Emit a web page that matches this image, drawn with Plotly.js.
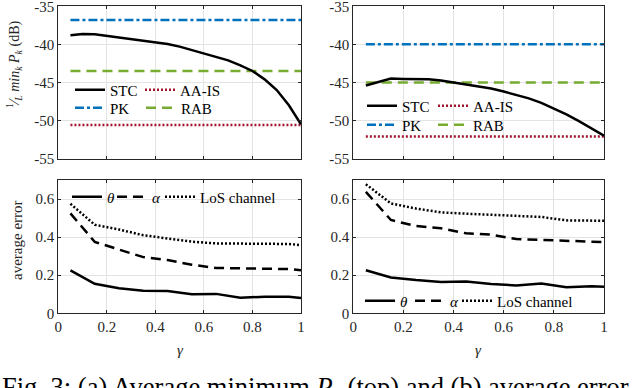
<!DOCTYPE html>
<html lang="en">
<head>
  <meta charset="UTF-8" />
  <title>Average minimum P_k and average error vs gamma</title>
  <script src="https://cdn.plot.ly/plotly-3.0.1.min.js"></script>
  <style>
    html, body { margin: 0; padding: 0; background: #fff; }
    #chart { width: 640px; height: 388px; }
  </style>
</head>
<body>
  <div id="chart"></div>
  <script>
    // gamma grid for the STC curves (top panels)
    const gammaP = [0.05, 0.10, 0.15, 0.20, 0.25, 0.30, 0.35, 0.40, 0.45, 0.50,
                    0.55, 0.60, 0.65, 0.70, 0.75, 0.80, 0.85, 0.90, 0.95, 1.00];
    // (a) average minimum power, dB
    const stcA = [-38.8, -38.65, -38.68, -38.9, -39.1, -39.3, -39.5, -39.7, -39.95, -40.3,
                  -40.75, -41.2, -41.6, -42.1, -42.75, -43.5, -44.6, -46.0, -48.0, -50.5];
    // (b)
    const stcB = [-45.4, -44.9, -44.5, -44.55, -44.6, -44.6, -44.75, -45.0, -45.25, -45.5,
                  -45.8, -46.2, -46.6, -47.1, -47.7, -48.4, -49.2, -50.1, -51.0, -52.0];

    // benchmarks are flat over gamma
    const benchGamma = [0.05, 1.0];
    const pkA = [-36.8, -36.8];
    const rabA = [-43.5, -43.5];
    const aaisA = [-50.6, -50.6];
    const pkB = [-40.0, -40.0];
    const rabB = [-45.0, -45.0];
    const aaisB = [-52.1, -52.1];

    // gamma grid for the error curves (bottom panels)
    const gammaE = [0.05, 0.15, 0.25, 0.35, 0.45, 0.55, 0.65, 0.75, 0.85, 0.95, 1.00];
    const thetaA = [0.225, 0.155, 0.132, 0.118, 0.117, 0.100, 0.102, 0.082, 0.087, 0.087, 0.080];
    const alphaA = [0.525, 0.375, 0.335, 0.295, 0.280, 0.255, 0.238, 0.237, 0.236, 0.232, 0.226];
    const losA   = [0.575, 0.465, 0.440, 0.410, 0.393, 0.376, 0.367, 0.366, 0.365, 0.364, 0.358];
    const thetaB = [0.226, 0.188, 0.175, 0.165, 0.167, 0.154, 0.146, 0.156, 0.137, 0.142, 0.140];
    const alphaB = [0.638, 0.490, 0.458, 0.447, 0.420, 0.413, 0.390, 0.385, 0.379, 0.377, 0.374];
    const losB   = [0.678, 0.577, 0.550, 0.530, 0.523, 0.518, 0.513, 0.506, 0.488, 0.488, 0.486];

    const xTicks = [0, 0.2, 0.4, 0.6, 0.8, 1];
    const xTickText = ['0', '0.2', '0.4', '0.6', '0.8', '1'];
    const pTicks = [-55, -50, -45, -40, -35];
    const pTickText = ['-55', '-50', '-45', '-40', '-35'];
    const eTicks = [0, 0.2, 0.4, 0.6];
    const eTickText = ['0', '0.2', '0.4', '0.6'];

    const W = 640, H = 388;
    const FONT = 'Liberation Serif, Times New Roman, serif';
    const INK = '#262626';
    const NB = '\u00a0';

    // MATLAB default colours
    const BLUE = '#0072BD', GREEN = '#77AC30', RED = '#A2142F';
    const DASH = '10px,6px', DOT = '2px,2px', DASHDOT = '9px,3px,3px,3px';

    // pixel helpers (margins are zero, so paper == page)
    const px = v => v / W;
    const py = v => 1 - v / H;

    // every legend entry gets its own legend box, placed where the reference has it
    // [legend id, left px, row centre px]
    const legendSpots = [];
    function line(x, y, name, color, dash, xa, ya, lx, ly) {
      const id = legendSpots.length === 0 ? 'legend' : 'legend' + (legendSpots.length + 1);
      legendSpots.push([id, lx, ly]);
      return {
        x: x, y: y, name: name, type: 'scatter', mode: 'lines',
        line: { color: color, width: 2.5, dash: dash },
        xaxis: xa, yaxis: ya, legend: id
      };
    }

    const traces = [
      // top left
      line(benchGamma, pkA, 'PK', BLUE, DASHDOT, 'x', 'y', 70, 108),
      line(benchGamma, rabA, 'RAB', GREEN, DASH, 'x', 'y', 141, 108),
      line(benchGamma, aaisA, 'AA-IS', RED, DOT, 'x', 'y', 140, 90),
      line(gammaP, stcA, 'STC', 'black', 'solid', 'x', 'y', 70, 90),
      // top right
      line(benchGamma, pkB, 'PK', BLUE, DASHDOT, 'x2', 'y2', 362, 125),
      line(benchGamma, rabB, 'RAB', GREEN, DASH, 'x2', 'y2', 433, 125),
      line(benchGamma, aaisB, 'AA-IS', RED, DOT, 'x2', 'y2', 433, 106),
      line(gammaP, stcB, 'STC', 'black', 'solid', 'x2', 'y2', 362, 106),
      // bottom left
      line(gammaE, thetaA, '<i>θ</i>' + NB, 'black', 'solid', 'x3', 'y3', 67, 197),
      line(gammaE, alphaA, '<i>α</i>' + NB, 'black', DASH, 'x3', 'y3', 112, 197),
      line(gammaE, losA, 'LoS channel', 'black', DOT, 'x3', 'y3', 160, 197),
      // bottom right
      line(gammaE, thetaB, '<i>θ</i>' + NB, 'black', 'solid', 'x4', 'y4', 360, 301),
      line(gammaE, alphaB, '<i>α</i>' + NB, 'black', DASH, 'x4', 'y4', 410, 301),
      line(gammaE, losB, 'LoS channel', 'black', DOT, 'x4', 'y4', 457, 301)
    ];

    function xAxis(domain, labels, anchor) {
      return {
        domain: domain, anchor: anchor, range: [0, 1],
        tickvals: xTicks, ticktext: xTickText, showticklabels: labels,
        ticks: 'inside', ticklen: 3, tickcolor: INK, ticklabeloverflow: 'allow',
        showline: true, linecolor: INK, linewidth: 1, mirror: 'ticks',
        showgrid: true, gridcolor: '#e3e3e3', zeroline: false,
        tickfont: { family: FONT, size: 15, color: INK }
      };
    }
    function yAxis(domain, range, vals, text, anchor) {
      return {
        domain: domain, anchor: anchor, range: range,
        tickvals: vals, ticktext: text,
        ticks: 'inside', ticklen: 3, tickcolor: INK, ticklabeloverflow: 'allow',
        showline: true, linecolor: INK, linewidth: 1, mirror: 'ticks',
        showgrid: true, gridcolor: '#e3e3e3', zeroline: false,
        tickfont: { family: FONT, size: 15, color: INK }
      };
    }

    const leftX = [px(58.3), px(301)];
    const rightX = [px(353.3), px(604)];
    const topY = [py(158.5), py(6.3)];
    const botY = [py(313.3), py(180)];

    function note(text, x, y, extra) {
      return Object.assign({
        text: text, x: px(x), y: py(y), xref: 'paper', yref: 'paper',
        xanchor: 'center', yanchor: 'middle',
        showarrow: false, font: { family: FONT, size: 15, color: INK }
      }, extra || {});
    }

    const layout = {
      width: W, height: H,
      margin: { l: 0, r: 0, t: 0, b: 0 },
      paper_bgcolor: '#ffffff', plot_bgcolor: '#ffffff',
      showlegend: true,
      xaxis: xAxis(leftX, false, 'y'),
      yaxis: yAxis(topY, [-55, -35], pTicks, pTickText, 'x'),
      xaxis2: xAxis(rightX, false, 'y2'),
      yaxis2: yAxis(topY, [-55, -35], pTicks, pTickText, 'x2'),
      xaxis3: xAxis(leftX, true, 'y3'),
      yaxis3: yAxis(botY, [0, 0.7], eTicks, eTickText, 'x3'),
      xaxis4: xAxis(rightX, true, 'y4'),
      yaxis4: yAxis(botY, [0, 0.7], eTicks, eTickText, 'x4'),
      annotations: [
        note('<sup>1</sup>⁄<sub><i>L</i></sub> <i>min<sub>k</sub> P<sub>k</sub></i> (dB)', 14, 65,
             { textangle: -90, font: { family: FONT, size: 14, color: INK } }),
        note('average error', 17, 240, { textangle: -90 }),
        note('<i>γ</i>', 180, 350),
        note('<i>γ</i>', 478, 350),
        note('Fig. 3: (a) Average minimum <i>P<sub>k</sub></i> (top) and (b) average error',
             0, 370, { xanchor: 'left', yanchor: 'top', font: { family: FONT, size: 26.5, color: 'black' } })
      ]
    };

    legendSpots.forEach(([id, lx, ly]) => {
      layout[id] = {
        x: px(lx), y: py(ly), xanchor: 'left', yanchor: 'middle',
        orientation: 'v', bgcolor: 'rgba(0,0,0,0)', borderwidth: 0,
        font: { family: FONT, size: 15, color: 'black' },
        itemclick: false
      };
    });

    Plotly.newPlot('chart', traces, layout, { staticPlot: true, displayModeBar: false });
  </script>
</body>
</html>
